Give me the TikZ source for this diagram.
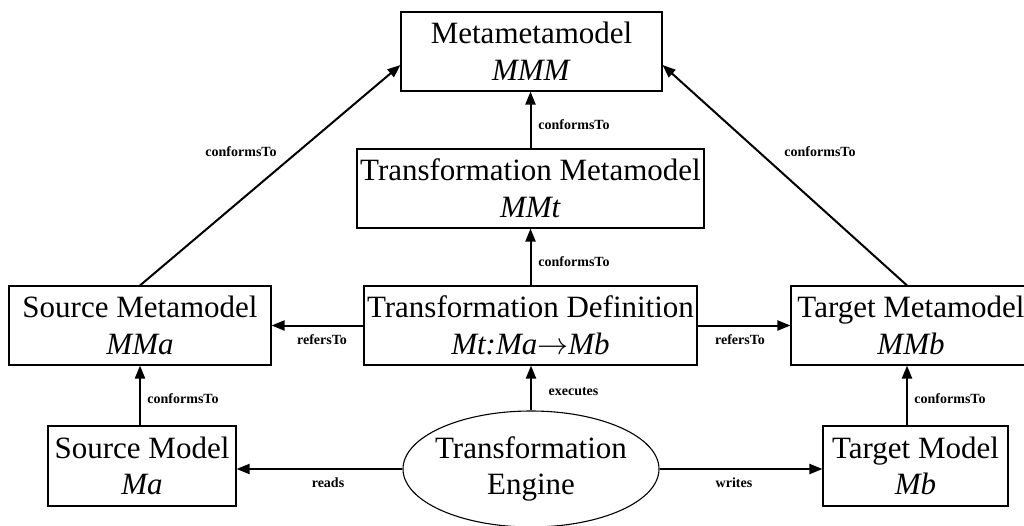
\documentclass[tikz,border=0pt]{standalone}
\usepackage{fix-cm}
\usepackage{fontspec}
\setmainfont{Liberation Serif}
\usetikzlibrary{arrows.meta,shapes.geometric}
\newcommand\boxfont{\fontsize{31}{36.7}\selectfont}
\newcommand\relfont{\fontsize{14}{16}\selectfont\bfseries}
\begin{document}
\begin{tikzpicture}[x=1pt,y=-1pt,
  box/.style={draw,line width=1.1pt,inner sep=0pt,align=center,font=\boxfont},
  rel/.style={line width=2pt,-{Triangle[length=13pt,width=10pt]}},
  lbl/.style={inner sep=0pt,font=\relfont}]
\useasboundingbox (0,0) rectangle (1024,525);
\clip (0,0) rectangle (1024,525);

% model / metamodel boxes
\node[box,minimum width=261pt,minimum height=79pt] (mmm) at (531.5,51.5)
  {Metametamodel\\\textit{MMM}};
\node[box,minimum width=347pt,minimum height=79pt] (mmt) at (530.5,188.5)
  {Transformation Metamodel\\\textit{MMt}};
\node[box,minimum width=262pt,minimum height=79pt] (mma) at (140,325.5)
  {Source Metamodel\\\textit{MMa}};
\node[box,minimum width=333pt,minimum height=79pt] (mt) at (530.5,325.5)
  {Transformation Definition\\\textit{Mt:Ma}$\rightarrow$\textit{Mb}};
\node[box,minimum width=240pt,minimum height=79pt] (mmb) at (911,325.5)
  {Target Metamodel\\\textit{MMb}};
\node[box,minimum width=188pt,minimum height=80pt] (ma) at (142,466)
  {Source Model\\\textit{Ma}};
\node[box,minimum width=185pt,minimum height=80pt] (mb) at (915.5,466)
  {Target Model\\\textit{Mb}};

% transformation engine
\node[draw,ellipse,line width=1.1pt,inner sep=0pt,
      minimum width=256pt,minimum height=116pt] (eng) at (531,469) {};
\node[align=center,inner sep=0pt,font=\boxfont] (engtext) at (eng.center)
  {Transformation\\Engine};

% relations
\draw[rel] (mma.north) -- ([yshift=-13.5pt]mmm.west);
\draw[rel] ([xshift=-4pt]mmb.north) -- ([yshift=-13.5pt]mmm.east);
\draw[rel] (mmt.north) -- (mmt.north |- mmm.south);
\draw[rel] (mt.north) -- (mt.north |- mmt.south);
\draw[rel] (mt.west) -- (mma.east);
\draw[rel] (mt.east) -- (mmb.west);
\draw[rel] ([xshift=-2pt]ma.north) -- ([xshift=-2pt]ma.north |- mma.south);
\draw[rel] ([xshift=-8.5pt]mb.north) -- ([xshift=-8.5pt]mb.north |- mmb.south);
\draw[rel] (eng.north) -- (eng.north |- mt.south);
\draw[rel] (eng.west) -- (eng.west -| ma.east);
\draw[rel] (eng.east) -- (eng.east -| mb.west);

% relation labels
\node[lbl] (l1) at (241,152) {conformsTo};
\node[lbl] (l2) at (574,125) {conformsTo};
\node[lbl] (l3) at (820,152) {conformsTo};
\node[lbl] (l4) at (574,262) {conformsTo};
\node[lbl] (l5) at (322,340) {refersTo};
\node[lbl] (l6) at (740,340) {refersTo};
\node[lbl] (l7) at (183,399) {conformsTo};
\node[lbl] (l8) at (950,399) {conformsTo};
\node[lbl] (l9) at (573.5,392) {executes};
\node[lbl] (l10) at (328,483) {reads};
\node[lbl] (l11) at (734,483) {writes};
\end{tikzpicture}
\end{document}
